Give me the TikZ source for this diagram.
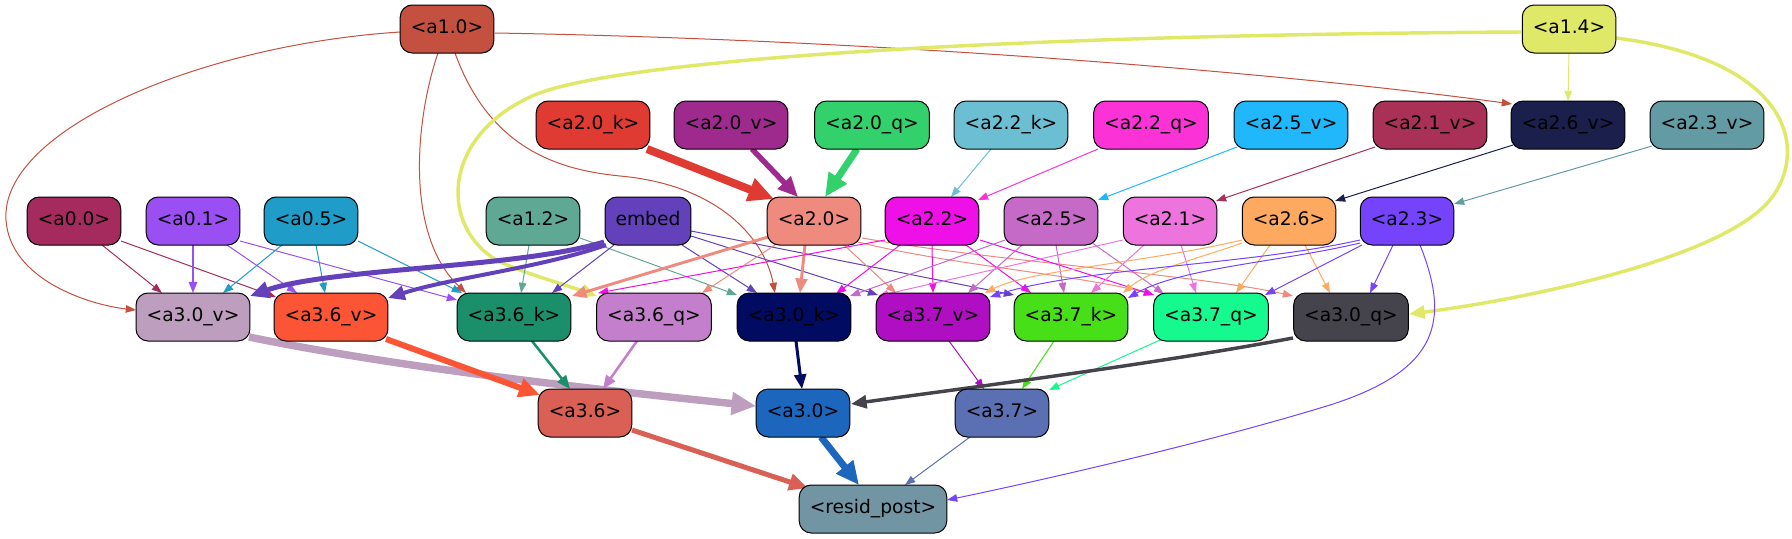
\documentclass[tikz,border=0pt]{standalone}
\usepackage{fontspec}
\setmainfont{DejaVu Sans}
\usetikzlibrary{arrows.meta,calc}
\pgfdeclarelayer{bg}
\pgfsetlayers{bg,main}
\definecolor{c10}{HTML}{C4503F}
\definecolor{c14}{HTML}{E0E868}
\definecolor{c20k}{HTML}{DF3B33}
\definecolor{c20v}{HTML}{9E2A8E}
\definecolor{c20q}{HTML}{33D16C}
\definecolor{c22k}{HTML}{6CBFD3}
\definecolor{c22q}{HTML}{FB33D6}
\definecolor{c25v}{HTML}{21B8FB}
\definecolor{c21v}{HTML}{A93056}
\definecolor{c26v}{HTML}{1B1F4C}
\definecolor{c23v}{HTML}{629BA4}
\definecolor{c00}{HTML}{A52B5E}
\definecolor{c01}{HTML}{9A4FF2}
\definecolor{c05}{HTML}{1F9CC8}
\definecolor{c12}{HTML}{5FA994}
\definecolor{cemb}{HTML}{6241BA}
\definecolor{c20}{HTML}{EF8A7E}
\definecolor{c22}{HTML}{EF10E8}
\definecolor{c25}{HTML}{C66AC8}
\definecolor{c21}{HTML}{EE74DD}
\definecolor{c26}{HTML}{FDAA60}
\definecolor{c23}{HTML}{7443FB}
\definecolor{c30v}{HTML}{BE9EBE}
\definecolor{c36v}{HTML}{FB5536}
\definecolor{c36k}{HTML}{1B8F6A}
\definecolor{c36q}{HTML}{C47FCC}
\definecolor{c30k}{HTML}{020B62}
\definecolor{c37v}{HTML}{B00EC2}
\definecolor{c37k}{HTML}{46DF18}
\definecolor{c37q}{HTML}{16F98F}
\definecolor{c30q}{HTML}{45434C}
\definecolor{c36}{HTML}{DA5F55}
\definecolor{c30}{HTML}{1C66BE}
\definecolor{c37}{HTML}{5B70B2}
\definecolor{cres}{HTML}{7295A4}
\tikzset{
  nd/.style={draw=black, line width=0.75pt, rounded corners=9pt, fill=#1,
    minimum height=36pt, minimum width=54pt, inner xsep=7.92pt, inner ysep=0pt,
    font=\fontsize{14}{16}\selectfont, text height=10pt, text depth=3pt},
  ed/.style={draw=#1, line width=0.75pt, -{Triangle[length=6pt 2.2,width=4pt 2.2]}},
}
\newcommand\edg[5]{\draw[#1] ($(#2)+(#3)$) -- ($(#4)+(#5)$);}
\begin{document}
\begin{tikzpicture}[x=0.75pt,y=-0.75pt]
\useasboundingbox (0,0) rectangle (1792,539);
% row 0
\node[nd=c10] (a10) at (447,29) {<a1.0>};
\node[nd=c14] (a14) at (1569,29) {<a1.4>};
% row 1
\node[nd=c20k] (a20k) at (593,125) {<a2.0\_k>};
\node[nd=c20v] (a20v) at (731,125) {<a2.0\_v>};
\node[nd=c20q] (a20q) at (872,125) {<a2.0\_q>};
\node[nd=c22k] (a22k) at (1011,125) {<a2.2\_k>};
\node[nd=c22q] (a22q) at (1151,125) {<a2.2\_q>};
\node[nd=c25v] (a25v) at (1291,125) {<a2.5\_v>};
\node[nd=c21v] (a21v) at (1430,125) {<a2.1\_v>};
\node[nd=c26v] (a26v) at (1568,125) {<a2.6\_v>};
\node[nd=c23v] (a23v) at (1707,125) {<a2.3\_v>};
% row 2
\node[nd=c00] (a00) at (74,221) {<a0.0>};
\node[nd=c01] (a01) at (193,221) {<a0.1>};
\node[nd=c05] (a05) at (311,221) {<a0.5>};
\node[nd=c12] (a12) at (533,221) {<a1.2>};
\node[nd=cemb] (emb) at (648,221) {embed};
\node[nd=c20] (a20) at (814,221) {<a2.0>};
\node[nd=c22] (a22) at (932,221) {<a2.2>};
\node[nd=c25] (a25) at (1051,221) {<a2.5>};
\node[nd=c21] (a21) at (1170,221) {<a2.1>};
\node[nd=c26] (a26) at (1289,221) {<a2.6>};
\node[nd=c23] (a23) at (1407,221) {<a2.3>};
% row 3
\node[nd=c30v] (a30v) at (193,317) {<a3.0\_v>};
\node[nd=c36v] (a36v) at (331,317) {<a3.6\_v>};
\node[nd=c36k] (a36k) at (514,317) {<a3.6\_k>};
\node[nd=c36q] (a36q) at (654,317) {<a3.6\_q>};
\node[nd=c30k] (a30k) at (794,317) {<a3.0\_k>};
\node[nd=c37v] (a37v) at (933,317) {<a3.7\_v>};
\node[nd=c37k] (a37k) at (1071,317) {<a3.7\_k>};
\node[nd=c37q] (a37q) at (1211,317) {<a3.7\_q>};
\node[nd=c30q] (a30q) at (1351,317) {<a3.0\_q>};
% row 4
\node[nd=c36] (a36) at (585,413) {<a3.6>};
\node[nd=c30] (a30) at (803,413) {<a3.0>};
\node[nd=c37] (a37) at (1002,413) {<a3.7>};
% row 5
\node[nd=cres] (res) at (873,509) {<resid\_post>};

\begin{pgfonlayer}{bg}
% row1 -> row2
\edg{ed=c20k, line width=6pt}{a20k}{54,24}{a20}{-40,-22}
\edg{ed=c20v, line width=4.1pt}{a20v}{21,24}{a20}{-16,-24}
\edg{ed=c20q, line width=5.2pt}{a20q}{-15,24}{a20}{11,-24}
\edg{ed=c22k}{a22k}{-20,24}{a22}{19,-24}
\edg{ed=c22q}{a22q}{-53,24}{a22}{46,-21}
\edg{ed=c25v}{a25v}{-54,22}{a25}{47,-21}
\edg{ed=c21v}{a21v}{-55,22}{a21}{46,-20}
\edg{ed=c26v}{a26v}{-55,20}{a26}{46,-20}
\edg{ed=c23v}{a23v}{-55,21}{a23}{47,-17}
\edg{ed=c14}{a14}{0,24}{a26v}{0,-24}
\draw[ed=c10] ($(a10)+(48,4)$) .. controls (900,40) and (1300,75) .. ($(a26v)+(-56,-21)$);
% a1.0 curves
\draw[ed=c10] ($(a10)+(-47,3)$) .. controls (200,45) and (0,130) .. (6,220) .. controls (10,280) and (90,305) .. ($(a30v)+(-57,-7)$);
\draw[ed=c10] ($(a10)+(-9,24)$) .. controls (415,120) and (405,235) .. ($(a36k)+(-48,-24)$);
\draw[ed=c10] ($(a10)+(8,24)$) .. controls (490,150) and (560,170) .. (620,176) .. controls (720,185) and (765,240) .. ($(a30k)+(-19,-24)$);
% a1.4 curves
\draw[ed=c14, line width=2.6pt] ($(a14)+(-48,3)$) .. controls (1000,35) and (600,60) .. (528,98) .. controls (440,140) and (440,230) .. (500,262) .. controls (530,275) and (560,283) .. ($(a36q)+(-57,-21)$);
\draw[ed=c14, line width=2.6pt] ($(a14)+(47,9)$) .. controls (1790,60) and (1810,150) .. (1770,200) .. controls (1720,260) and (1520,300) .. ($(a30q)+(58,-3)$);
% left inputs
\edg{ed=c00}{a00}{28,24}{a30v}{-31,-24}
\edg{ed=c00}{a00}{47,20}{a36v}{-55,-20}
\edg{ed=c01, line width=1.1pt}{a01}{0,24}{a30v}{0,-24}
\edg{ed=c01}{a01}{34,24}{a36v}{-34,-24}
\edg{ed=c01}{a01}{47,20}{a36k}{-57,-17}
\edg{ed=c05}{a05}{-29,24}{a30v}{30,-24}
\edg{ed=c05}{a05}{5,24}{a36v}{-6,-24}
\edg{ed=c05}{a05}{47,20}{a36k}{-52,-24}
\edg{ed=c12}{a12}{-4,24}{a36k}{7,-24}
\edg{ed=c12}{a12}{47,17}{a30k}{-57,-22}
% embed
\draw[ed=cemb, line width=3.75pt] ($(emb)+(-44,21)$) .. controls (520,268) and (330,268) .. ($(a30v)+(57,-21)$);
\draw[ed=cemb, line width=3pt] ($(emb)+(-42,24)$) .. controls (540,268) and (450,278) .. ($(a36v)+(57,-19)$);
\edg{ed=cemb}{emb}{-34,24}{a36k}{38,-24}
\edg{ed=cemb}{emb}{34,24}{a30k}{-37,-24}
\edg{ed=cemb}{emb}{43,15}{a37v}{-55,-22}
\edg{ed=cemb}{emb}{43,10}{a37k}{-57,-22}
% a2.0
\edg{ed=c20, line width=2.2pt}{a20}{-46,16}{a36k}{58,-21}
\edg{ed=c20}{a20}{-39,24}{a36q}{48,-24}
\edg{ed=c20, line width=2.2pt}{a20}{-9,24}{a30k}{6,-24}
\edg{ed=c20}{a20}{30,24}{a37v}{-37,-24}
\draw[ed=c20] ($(a20)+(44,21)$) .. controls (950,265) and (1080,275) .. ($(a37q)+(-57,-22)$);
\draw[ed=c20] ($(a20)+(48,17)$) .. controls (1000,262) and (1200,275) .. ($(a30q)+(-58,-21)$);
% a2.2
\edg{ed=c22}{a22}{-47,19}{a36q}{-56,-24}
\edg{ed=c22}{a22}{-32,24}{a30k}{42,-23}
\edg{ed=c22}{a22}{0,24}{a37v}{0,-24}
\edg{ed=c22}{a22}{34,24}{a37k}{-40,-24}
\edg{ed=c22}{a22}{48,19}{a37q}{-57,-22}
% a2.5
\edg{ed=c25}{a25}{-46,19}{a30k}{56,-21}
\edg{ed=c25}{a25}{-29,24}{a37v}{35,-24}
\edg{ed=c25}{a25}{5,24}{a37k}{-7,-24}
\edg{ed=c25}{a25}{40,21}{a37q}{-47,-23}
% a2.1
\edg{ed=c21}{a21}{-47,19}{a37v}{-55,-21}
\edg{ed=c21}{a21}{-26,24}{a37k}{20,-24}
\edg{ed=c21}{a21}{11,24}{a37q}{-15,-24}
% a2.6
\draw[ed=c26] ($(a26)+(-47,19)$) .. controls (1150,262) and (1030,270) .. ($(a37v)+(52,-24)$);
\draw[ed=c26] ($(a26)+(-47,22)$) .. controls (1200,258) and (1150,270) .. ($(a37k)+(52,-24)$);
\edg{ed=c26}{a26}{-19,24}{a37q}{25,-24}
\edg{ed=c26}{a26}{16,24}{a30q}{-21,-24}
% a2.3
\draw[ed=c23] ($(a23)+(-47,19)$) .. controls (1250,265) and (1080,268) .. ($(a37v)+(57,-20)$);
\draw[ed=c23] ($(a23)+(-47,22)$) .. controls (1280,262) and (1180,268) .. ($(a37k)+(57,-19)$);
\edg{ed=c23}{a23}{-45,24}{a37q}{54,-22}
\edg{ed=c23}{a23}{-14,24}{a30q}{19,-24}
\draw[ed=c23] ($(a23)+(13,24)$) .. controls (1450,320) and (1440,370) .. (1330,405) .. controls (1200,445) and (1020,485) .. ($(res)+(74,-9)$);
% row3 -> row4
\draw[ed=c30v, line width=5.6pt] ($(a30v)+(56,20)$) .. controls (400,368) and (600,390) .. ($(a30)+(-47,-7)$);
\edg{ed=c36v, line width=4.5pt}{a36v}{55,22}{a36}{-45,-18}
\edg{ed=c36k, line width=1.9pt}{a36k}{18,24}{a36}{-15,-24}
\edg{ed=c36q, line width=1.9pt}{a36q}{-17,24}{a36}{18,-24}
\edg{ed=c30k, line width=2.25pt}{a30k}{2,24}{a30}{-1,-24}
\edg{ed=c37v}{a37v}{16,24}{a37}{-18,-24}
\edg{ed=c37k}{a37k}{-17,24}{a37}{20,-24}
\edg{ed=c37q}{a37q}{-51,23}{a37}{47,-23}
\draw[ed=c30q, line width=2.6pt] ($(a30q)+(-58,21)$) .. controls (1150,365) and (950,390) .. ($(a30)+(48,-9)$);
% row4 -> resid
\edg{ed=c36, line width=3.75pt}{a36}{47,17}{res}{-65,-21}
\edg{ed=c30, line width=5.2pt}{a30}{18,24}{res}{-14,-24}
\edg{ed=c37}{a37}{-32,24}{res}{32,-24}
\end{pgfonlayer}
\end{tikzpicture}
\end{document}
